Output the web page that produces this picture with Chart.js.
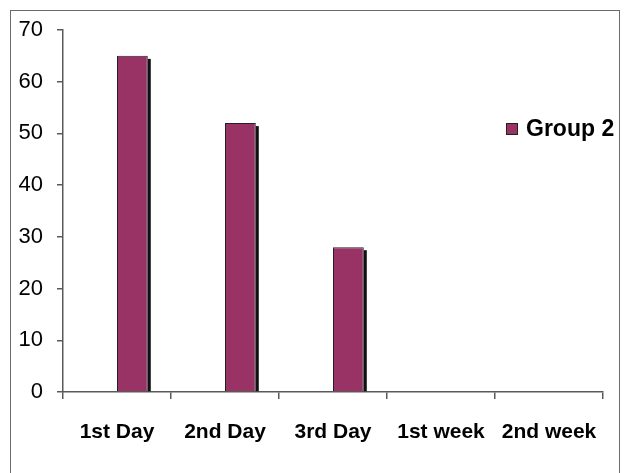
<!DOCTYPE html>
<html>
<head>
<meta charset="utf-8">
<script src="https://cdn.jsdelivr.net/npm/chart.js@4.4.1/dist/chart.umd.min.js"></script>
<style>
    html, body {
        margin: 0;
        padding: 0;
        background: #ffffff;
    }
    .wrap {
        position: relative;
        width: 624px;
        height: 473px;
        overflow: hidden;
    }
    .frame {
        position: absolute;
        left: 10px;
        top: 10px;
        width: 610px;
        height: 480px;
        border: 1px solid #6b6b6b;
        box-sizing: border-box;
    }
    canvas {
        position: absolute;
        left: 0;
        top: 0;
    }
    .legend {
        position: absolute;
        left: 506px;
        top: 115px;
        display: flex;
        align-items: center;
        font-family: 'Liberation Sans', Arial, sans-serif;
        font-weight: bold;
        font-size: 23px;
        color: #000;
    }
    .legend .swatch {
        width: 12px;
        height: 12px;
        border: 1px solid #222;
        margin-right: 8px;
        box-sizing: border-box;
    }
</style>
</head>
<body>
<div class="wrap">
    <div class="frame"></div>
    <canvas id="chart" width="624" height="473"></canvas>
    <div class="legend" id="legend"></div>
</div>
<script>
// Periods on the x axis
const periods = ['1st Day', '2nd Day', '3rd Day', '1st week', '2nd week'];
// Left-hand slot of each pair is empty, Group 2 sits on the right
const group1 = [null, null, null, null, null];
const group2 = [65, 52, 28, 0, 0];
const yTicks = [0, 10, 20, 30, 40, 50, 60, 70];

const barColor = '#993366';
const axisColor = '#5a5a5a';

// Dark drop shadow along the right edge of each bar
const barShadow = {
    id: 'barShadow',
    beforeDatasetsDraw(chart) {
        const ctx = chart.ctx;
        const meta = chart.getDatasetMeta(1);
        ctx.save();
        ctx.fillStyle = '#111111';
        meta.data.forEach(bar => {
            const p = bar.getProps(['x', 'y', 'base', 'width'], true);
            if (p.base - p.y < 4) return;
            ctx.fillRect(p.x + p.width / 2, p.y + 3, 3, p.base - p.y - 3);
        });
        ctx.restore();
    }
};

const ctx = document.getElementById('chart').getContext('2d');
const chart = new Chart(ctx, {
    type: 'bar',
    data: {
        labels: periods,
        datasets: [
            {
                label: 'Group 1',
                data: group1,
                backgroundColor: 'transparent'
            },
            {
                label: 'Group 2',
                data: group2,
                backgroundColor: barColor,
                borderColor: '#222222',
                borderWidth: 1,
                borderSkipped: 'bottom'
            }
        ]
    },
    options: {
        responsive: false,
        animation: false,
        categoryPercentage: 0.57,
        barPercentage: 1.0,
        layout: {
            padding: { left: 10, top: 30, right: 21, bottom: 0 }
        },
        plugins: {
            legend: { display: false },
            tooltip: { enabled: false }
        },
        scales: {
            x: {
                grid: {
                    display: true,
                    drawOnChartArea: false,
                    drawTicks: true,
                    tickLength: 7,
                    color: axisColor,
                    lineWidth: 1.5
                },
                border: { color: axisColor, width: 1.5 },
                ticks: {
                    color: '#000',
                    padding: 21,
                    maxRotation: 0,
                    font: { family: "'Liberation Sans', Arial, sans-serif", size: 21, weight: 'bold' }
                },
                afterFit(scale) {
                    scale.height = 81;
                }
            },
            y: {
                min: 0,
                max: 70,
                afterBuildTicks(scale) {
                    scale.ticks = yTicks.map(v => ({ value: v }));
                },
                grid: {
                    display: true,
                    drawOnChartArea: false,
                    drawTicks: true,
                    tickLength: 6,
                    color: axisColor,
                    lineWidth: 1.5
                },
                border: { color: axisColor, width: 1.5 },
                ticks: {
                    color: '#000',
                    padding: 14,
                    font: { family: "'Liberation Sans', Arial, sans-serif", size: 22 }
                },
                afterFit(scale) {
                    scale.width = 53;
                }
            }
        }
    },
    plugins: [barShadow]
});

// Legend lists only the visible series
const legend = document.getElementById('legend');
chart.data.datasets.slice(1).forEach(ds => {
    const sw = document.createElement('span');
    sw.className = 'swatch';
    sw.style.background = ds.backgroundColor;
    const txt = document.createElement('span');
    txt.textContent = ds.label;
    legend.appendChild(sw);
    legend.appendChild(txt);
});
</script>
</body>
</html>
